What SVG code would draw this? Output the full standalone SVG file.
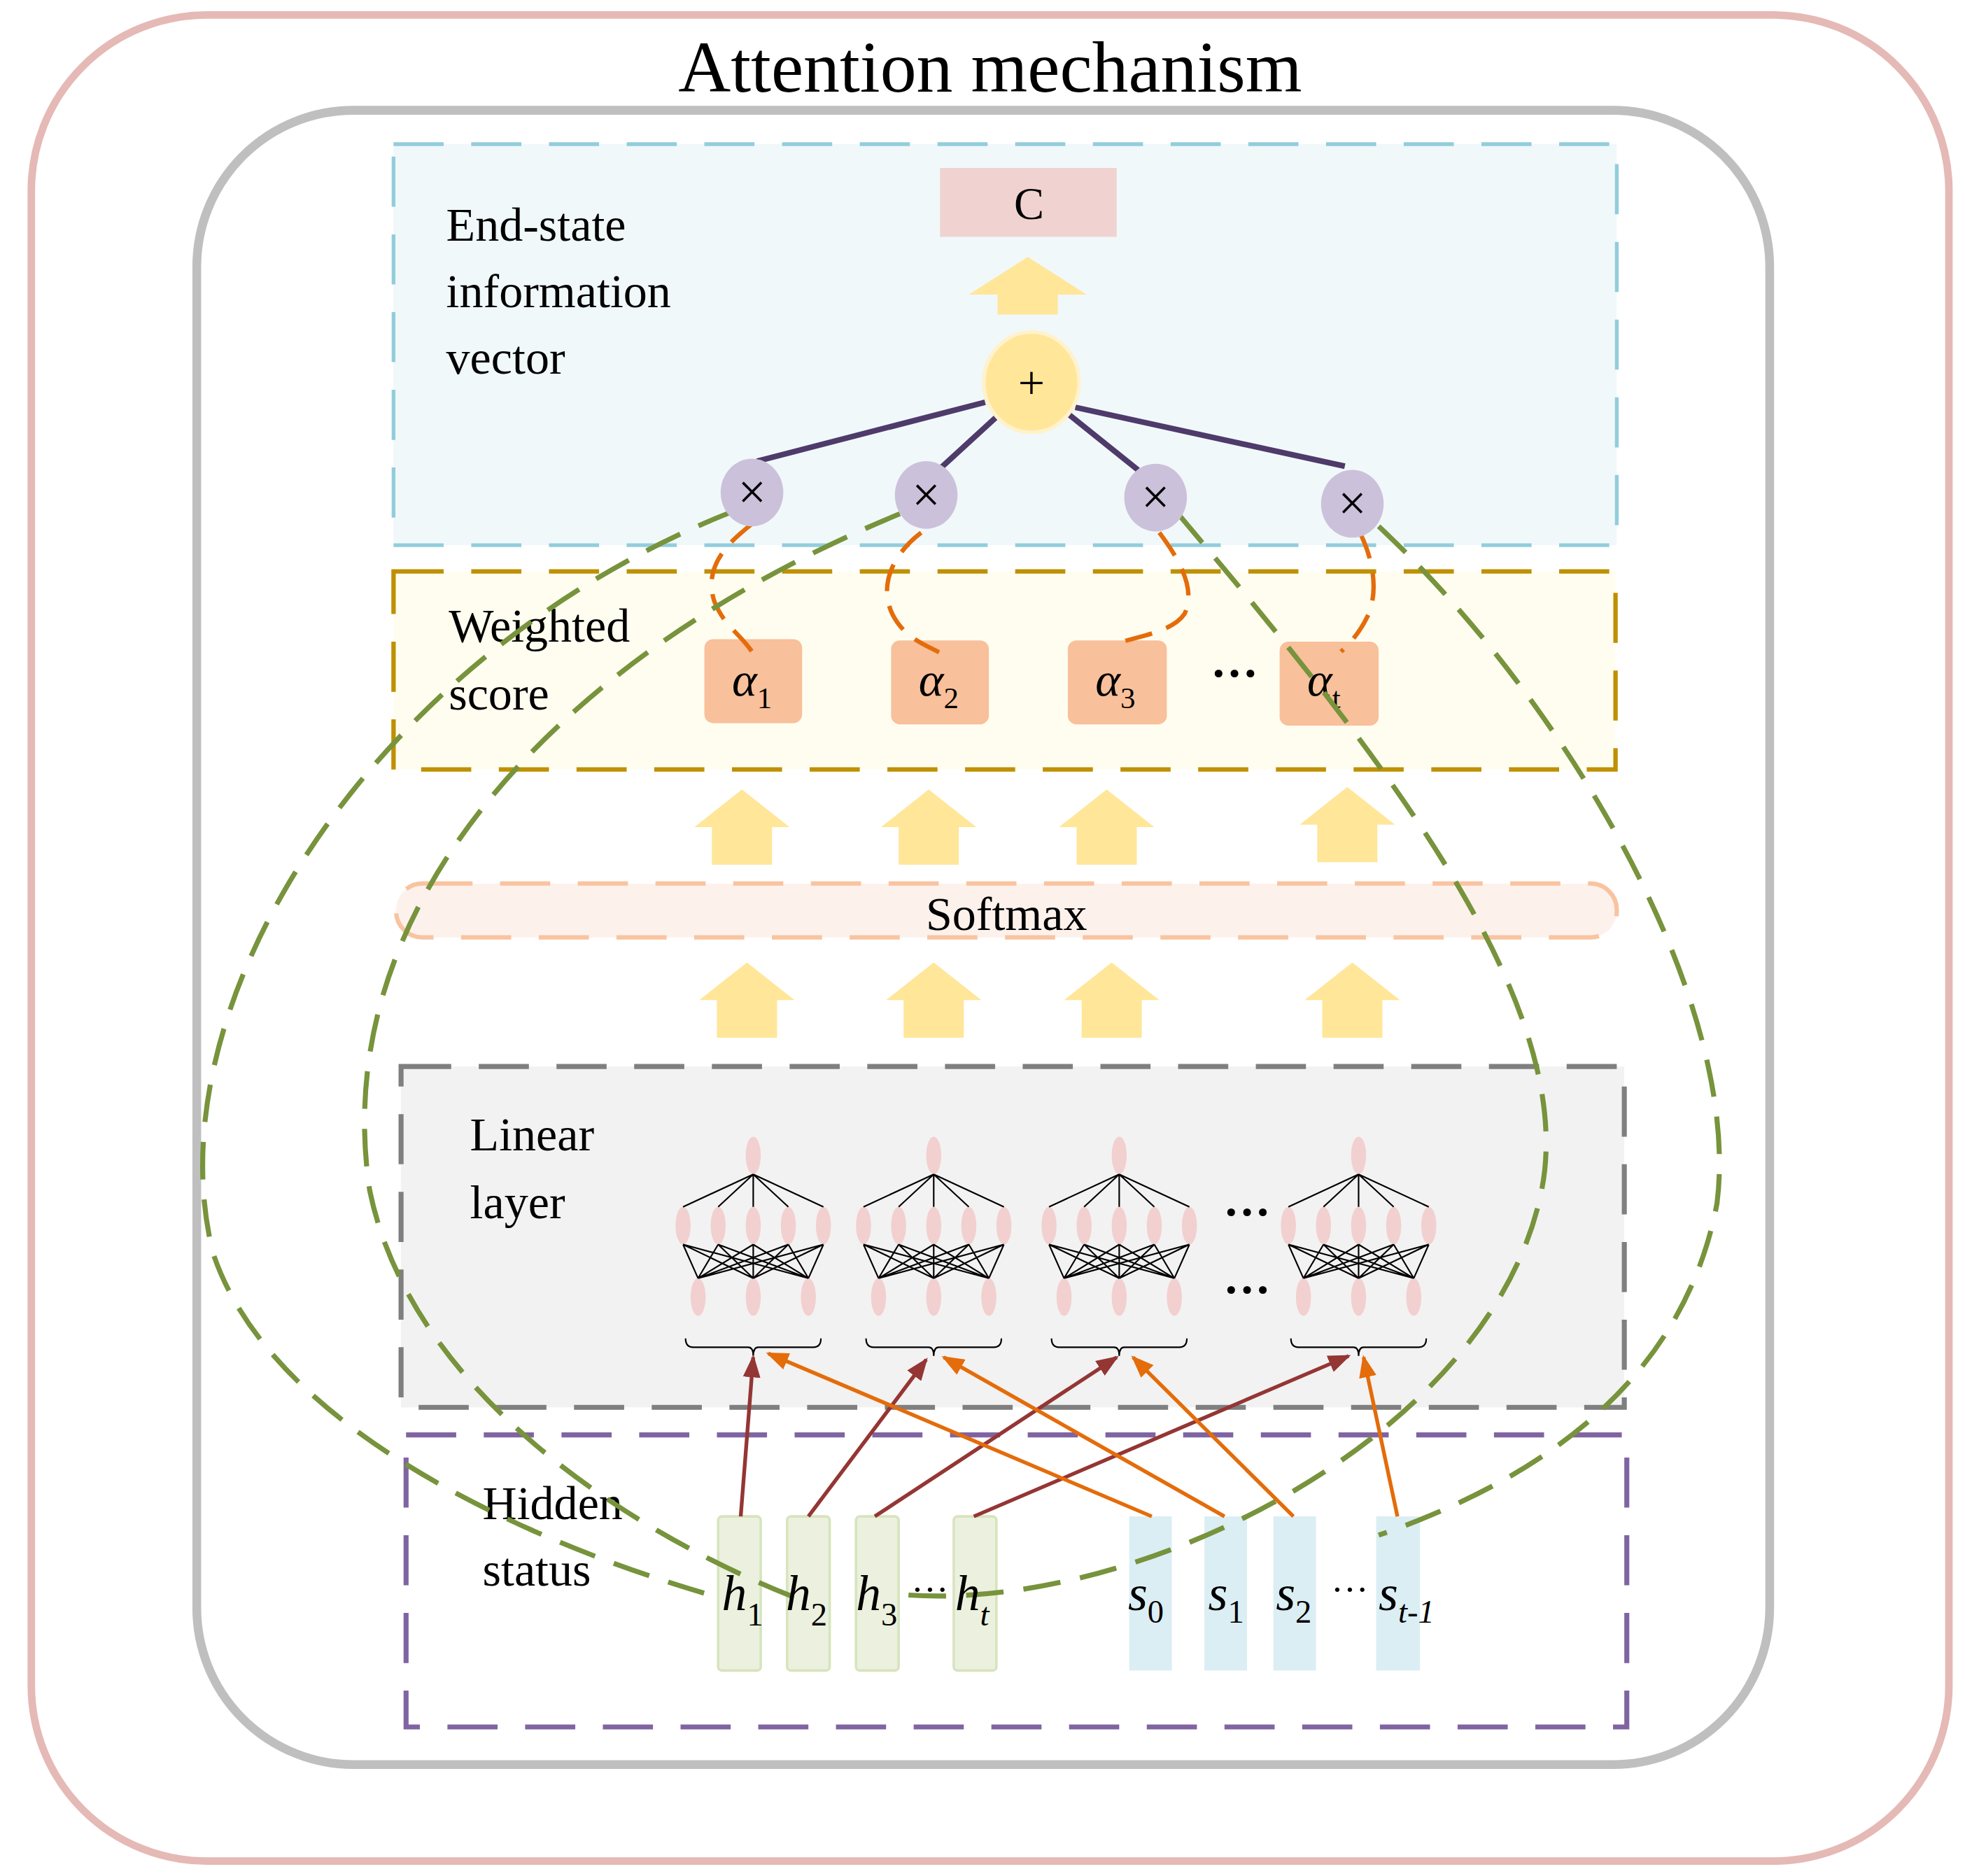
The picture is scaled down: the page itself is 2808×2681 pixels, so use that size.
<svg xmlns="http://www.w3.org/2000/svg" width="2808" height="2681" viewBox="0 0 2808 2681">
<style>
text{font-family:"Liberation Serif","Times New Roman",serif;fill:#000}
.lbl{font-size:38px}
.it{font-style:italic}
.ya{fill:#ffe699}
.nn{fill:#f2d0d0}
.ln{stroke:#000;stroke-width:1.2;fill:none}
.gd{fill:none;stroke:#77933c;stroke-width:4;stroke-dasharray:30 16}
.od{fill:none;stroke:#e46c0a;stroke-width:3.5;stroke-dasharray:22 12}
.pl{stroke:#4e3b6a;stroke-width:4.5}
</style>
<defs>
<marker id="mr" markerWidth="18" markerHeight="14" refX="16" refY="7" orient="auto" markerUnits="userSpaceOnUse" viewBox="0 0 18 14"><path d="M0,0L18,7L0,14z" fill="#943634"/></marker>
<marker id="mo" markerWidth="18" markerHeight="14" refX="16" refY="7" orient="auto" markerUnits="userSpaceOnUse" viewBox="0 0 18 14"><path d="M0,0L18,7L0,14z" fill="#e46c0a"/></marker>
<g id="nnet">
<ellipse class="nn" cx="0" cy="922" rx="6" ry="15"/>
<ellipse class="nn" cx="-56" cy="978" rx="6" ry="15"/><ellipse class="nn" cx="-28" cy="978" rx="6" ry="15"/><ellipse class="nn" cx="0" cy="978" rx="6" ry="15"/><ellipse class="nn" cx="28" cy="978" rx="6" ry="15"/><ellipse class="nn" cx="56" cy="978" rx="6" ry="15"/>
<ellipse class="nn" cx="-44" cy="1035" rx="6" ry="15"/><ellipse class="nn" cx="0" cy="1035" rx="6" ry="15"/><ellipse class="nn" cx="44" cy="1035" rx="6" ry="15"/>
<path class="ln" d="M0,937L-56,963M0,937L-28,963M0,937L0,963M0,937L28,963M0,937L56,963"/>
<path class="ln" d="M-56,993L-44,1020M-56,993L0,1020M-56,993L44,1020M-28,993L-44,1020M-28,993L0,1020M-28,993L44,1020M0,993L-44,1020M0,993L0,1020M0,993L44,1020M28,993L-44,1020M28,993L0,1020M28,993L44,1020M56,993L-44,1020M56,993L0,1020M56,993L44,1020"/>
<path class="ln" d="M-54,1068q0,7 6,7h44q4,0 4,7q0,-7 4,-7h44q6,0 6,-7"/>
</g>
<path id="yarr" d="M0,0L38,30H24V60H-24V30H-38Z"/>
<path id="yarr2" d="M0,0L47,30H24V46H-24V30H-47Z"/>
</defs>
<g transform="scale(1.791)">
<g id="frames">
<rect x="25" y="12" width="1530" height="1473" rx="140" fill="#fff" stroke="#e5b9b5" stroke-width="6"/>
<text x="790" y="73" font-size="58" text-anchor="middle">Attention mechanism</text>
<rect x="157" y="88" width="1255" height="1320" rx="125" fill="none" stroke="#bfbfbf" stroke-width="7"/>
</g>
<g id="endstate">
<rect x="314" y="115" width="976" height="320" fill="#f1f8fa" stroke="#92cddc" stroke-width="3" stroke-dasharray="40 22"/>
<text class="lbl" x="356" y="192">End-state</text>
<text class="lbl" x="356" y="245">information</text>
<text class="lbl" x="356" y="298">vector</text>
</g>
<g id="C"><rect x="750" y="134" width="141" height="55" fill="#f0d3d1"/><text x="821" y="175" font-size="36" text-anchor="middle">C</text></g>
<use href="#yarr2" class="ya" x="820" y="205"/>
<g id="weighted">
<rect x="314" y="456" width="975" height="158" fill="#fffdf0" stroke="#bf9000" stroke-width="3.5" stroke-dasharray="40 22"/>
<text class="lbl" x="358" y="512">Weighted</text>
<text class="lbl" x="358" y="566">score</text>
<g fill="#f8c09b"><rect x="562" y="510" width="78" height="67" rx="7"/><rect x="711" y="511" width="78" height="67" rx="7"/><rect x="852" y="511" width="79" height="67" rx="7"/><rect x="1021" y="512" width="79" height="67" rx="7"/></g>
<text x="584" y="555" font-size="38" class="it">α<tspan font-size="24" font-style="normal" dy="10">1</tspan></text>
<text x="733" y="555" font-size="38" class="it">α<tspan font-size="24" font-style="normal" dy="10">2</tspan></text>
<text x="874" y="555" font-size="38" class="it">α<tspan font-size="24" font-style="normal" dy="10">3</tspan></text>
<text x="1043" y="555" font-size="38" class="it">α<tspan font-size="24" font-style="normal" dy="10">t</tspan></text>
<text x="985" y="550" font-size="38" text-anchor="middle" font-weight="bold">···</text>
</g>
<g id="arrows1" class="ya">
<use href="#yarr" x="592" y="630"/><use href="#yarr" x="741" y="630"/><use href="#yarr" x="883" y="630"/><use href="#yarr" x="1075" y="628"/>
<use href="#yarr" x="596" y="768"/><use href="#yarr" x="745" y="768"/><use href="#yarr" x="887" y="768"/><use href="#yarr" x="1079" y="768"/>
</g>
<g id="softmax"><rect x="316" y="705" width="974" height="43" rx="21" fill="#fdf1ec" stroke="#f8c4a0" stroke-width="3.5" stroke-dasharray="40 22"/><text class="lbl" x="803" y="742" text-anchor="middle">Softmax</text></g>
<g id="linear">
<rect x="320" y="851" width="976" height="272" fill="#f2f2f2" stroke="#7f7f7f" stroke-width="4" stroke-dasharray="40 22"/>
<text class="lbl" x="375" y="918">Linear</text>
<text class="lbl" x="375" y="972">layer</text>
<use href="#nnet" x="601"/><use href="#nnet" x="745"/><use href="#nnet" x="893"/><use href="#nnet" x="1084"/>
<text x="995" y="980" font-size="38" text-anchor="middle" font-weight="bold">···</text>
<text x="995" y="1042" font-size="38" text-anchor="middle" font-weight="bold">···</text>
</g>
<g id="hidden">
<rect x="324" y="1145" width="974" height="233" fill="none" stroke="#8064a2" stroke-width="4" stroke-dasharray="40 22"/>
<text class="lbl" x="385" y="1212">Hidden</text>
<text class="lbl" x="385" y="1265">status</text>
<g fill="#ebf1de" stroke="#d7e4bd" stroke-width="2"><rect x="573" y="1210" width="34" height="123" rx="3"/><rect x="628" y="1210" width="34" height="123" rx="3"/><rect x="683" y="1210" width="34" height="123" rx="3"/><rect x="761" y="1210" width="34" height="123" rx="3"/></g>
<g fill="#dbeef4"><rect x="901" y="1210" width="34" height="123"/><rect x="961" y="1210" width="34" height="123"/><rect x="1016" y="1210" width="34" height="123"/><rect x="1098" y="1210" width="35" height="123"/></g>
</g>
<g id="connectors">
<line class="pl" x1="604" y1="368" x2="786" y2="321"/>
<line class="pl" x1="750" y1="374" x2="798" y2="330"/>
<line class="pl" x1="908" y1="375" x2="852" y2="330"/>
<line class="pl" x1="1073" y1="372" x2="858" y2="325"/>
<path class="od" d="M600,418C585,430 560,450 570,480C578,500 590,505 600,520"/>
<path class="od" d="M735,425C715,440 700,465 712,490C722,510 740,515 752,522"/>
<path class="od" d="M925,425C940,445 955,470 945,490C935,505 905,508 890,514"/>
<path class="od" d="M1085,425C1095,445 1100,470 1092,490C1085,505 1078,512 1070,520"/>
<path class="gd" d="M585,408C300,520 120,800 170,1000C220,1150 450,1240 575,1275"/>
<path class="gd" d="M718,410C450,520 260,720 295,950C330,1120 520,1230 635,1275"/>
<path class="gd" d="M940,410C1100,600 1260,800 1230,950C1190,1150 900,1290 716,1272"/>
<path class="gd" d="M1100,420C1250,560 1390,800 1370,960C1340,1120 1200,1190 1100,1225"/>
<g stroke="#943634" stroke-width="3" marker-end="url(#mr)">
<line x1="591" y1="1210" x2="601" y2="1083"/>
<line x1="645" y1="1210" x2="739" y2="1085"/>
<line x1="698" y1="1210" x2="891" y2="1083"/>
<line x1="777" y1="1210" x2="1076" y2="1082"/>
</g>
<g stroke="#e46c0a" stroke-width="3" marker-end="url(#mo)">
<line x1="919" y1="1210" x2="613" y2="1080"/>
<line x1="977" y1="1210" x2="753" y2="1083"/>
<line x1="1032" y1="1210" x2="904" y2="1083"/>
<line x1="1115" y1="1210" x2="1088" y2="1083"/>
</g>
</g>
<g id="plus"><ellipse cx="823" cy="305" rx="38" ry="40" fill="#ffe699" stroke="#fff2cc" stroke-width="3"/><text x="823" y="318" font-size="38" text-anchor="middle">+</text></g>
<g id="times" font-size="40" text-anchor="middle">
<ellipse cx="600" cy="393" rx="25" ry="27" fill="#ccc1da"/><text x="600" y="406">×</text>
<ellipse cx="739" cy="395" rx="25" ry="27" fill="#ccc1da"/><text x="739" y="408">×</text>
<ellipse cx="922" cy="397" rx="25" ry="27" fill="#ccc1da"/><text x="922" y="410">×</text>
<ellipse cx="1079" cy="402" rx="25" ry="27" fill="#ccc1da"/><text x="1079" y="415">×</text>
</g>
<g id="hlabels">
<g font-size="40" class="it">
<text x="576" y="1285">h<tspan font-size="26" font-style="normal" dy="12">1</tspan></text>
<text x="627" y="1285">h<tspan font-size="26" font-style="normal" dy="12">2</tspan></text>
<text x="683" y="1285">h<tspan font-size="26" font-style="normal" dy="12">3</tspan></text>
<text x="762" y="1285">h<tspan font-size="26" dy="12">t</tspan></text>
<text x="900" y="1285">s<tspan font-size="26" font-style="normal" dy="10">0</tspan></text>
<text x="964" y="1285">s<tspan font-size="26" font-style="normal" dy="10">1</tspan></text>
<text x="1018" y="1285">s<tspan font-size="26" font-style="normal" dy="10">2</tspan></text>
<text x="1100" y="1285">s<tspan font-size="26" dy="10">t-1</tspan></text>
</g>
<text x="742" y="1278" font-size="30" text-anchor="middle">···</text>
<text x="1077" y="1278" font-size="30" text-anchor="middle">···</text>
</g>
</g>
</svg>
